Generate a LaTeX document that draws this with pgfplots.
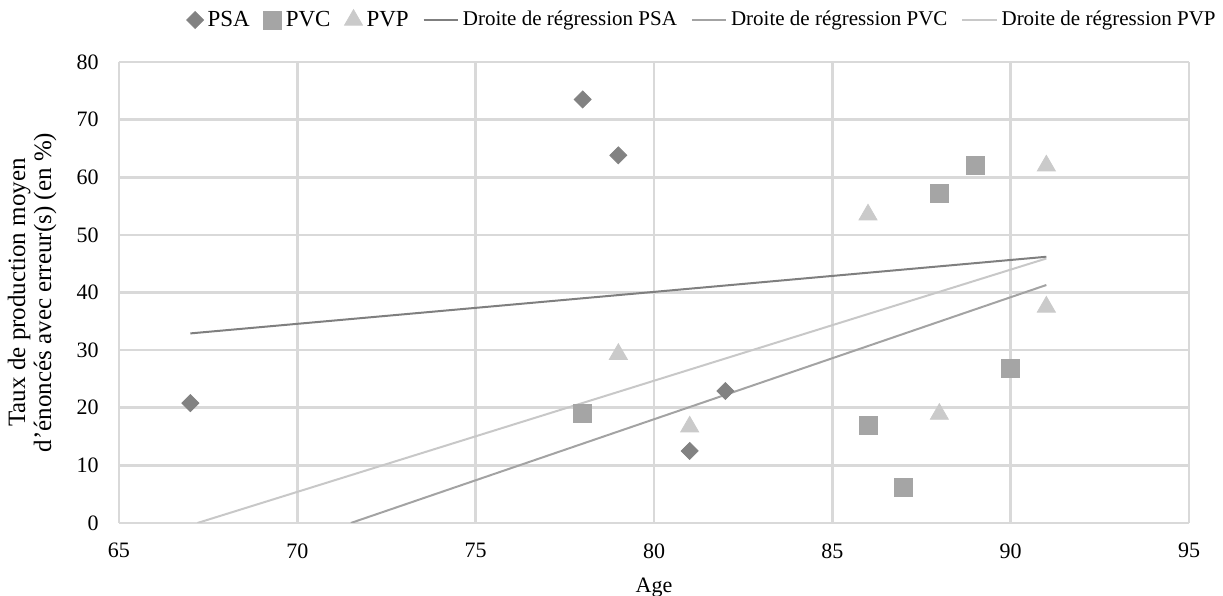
\documentclass[border=0pt]{standalone}
\usepackage{fontspec}
\setmainfont{Liberation Serif}
\usepackage{pgfplots}
\pgfplotsset{compat=1.18}
\definecolor{gridgray}{HTML}{D9D9D9}
\definecolor{cpsa}{HTML}{828282}
\definecolor{cpvc}{HTML}{A5A5A5}
\definecolor{cpvp}{HTML}{CACACA}
\definecolor{lpsa}{HTML}{7F7F7F}
\definecolor{lpvc}{HTML}{A3A3A3}
\definecolor{lpvp}{HTML}{C8C8C8}
\begin{document}
\begin{tikzpicture}
\begin{axis}[
  scale only axis,
  width=535pt, height=230.5pt,
  xmin=65, xmax=95, ymin=0, ymax=80,
  xtick={65,70,...,95}, ytick={0,10,...,80},
  grid=major,
  major grid style={color=gridgray, line width=1.3pt},
  axis line style={draw=none},
  tick style={draw=none},
  /pgf/number format/assume math mode=true,
  ticklabel style={font=\fontsize{11}{13}\selectfont},
  yticklabel style={inner sep=0pt, xshift=-10pt},
  xticklabel style={inner sep=0pt, yshift=-10pt},
  xlabel={Age},
  xlabel style={at={(axis description cs:0.5,-0.1497)}, anchor=base, font=\fontsize{11}{13}\selectfont},
  ylabel={Taux de production moyen\\d'énoncés avec erreur(s) (en \%)},
  ylabel style={at={(axis description cs:-0.0813,0.5)}, anchor=center, align=center, font=\fontsize{12.5}{13}\selectfont},
  legend columns=-1,
  legend style={draw=none, fill=none, at={(1.029,1.091)}, anchor=east, inner sep=0pt,
    font=\fontsize{10.5}{12}\selectfont,
    /tikz/every even column/.append style={column sep=5pt}},
]
\addplot[only marks, mark=square*, mark size=3pt, mark options={rotate=45, fill=cpsa, draw=cpsa}]
  coordinates {(67,20.8) (78,73.5) (79,63.8) (81,12.5) (82,22.9)};
\addlegendentry{\fontsize{11.5}{13}\selectfont PSA}
\addplot[only marks, mark=square*, mark size=4.5pt, mark options={fill=cpvc, draw=cpvc}]
  coordinates {(78,19.1) (86,17.0) (87,6.2) (88,57.2) (89,62.0) (90,26.9)};
\addlegendentry{\fontsize{11.5}{13}\selectfont PVC}
\addplot[only marks, mark=triangle*, mark size=5.2pt, mark options={fill=cpvp, draw=cpvp}]
  coordinates {(79,29.3) (81,16.7) (86,53.5) (88,18.9) (91,62.0) (91,37.5)};
\addlegendentry{\fontsize{11.5}{13}\selectfont PVP}
\addplot[lpsa, line width=1pt, no marks] coordinates {(67,32.9) (91,46.2)};
\addlegendentry{Droite de régression PSA}
\addplot[lpvc, line width=1pt, no marks] coordinates {(71.5,0) (91,41.3)};
\addlegendentry{Droite de régression PVC}
\addplot[lpvp, line width=1pt, no marks] coordinates {(67.2,0) (91,45.9)};
\addlegendentry{Droite de régression PVP}
\end{axis}
\pgfresetboundingbox
\path ([xshift=-59.5pt,yshift=-36.5pt]current axis.south west) rectangle ([xshift=17pt,yshift=31pt]current axis.north east);
\end{tikzpicture}
\end{document}
